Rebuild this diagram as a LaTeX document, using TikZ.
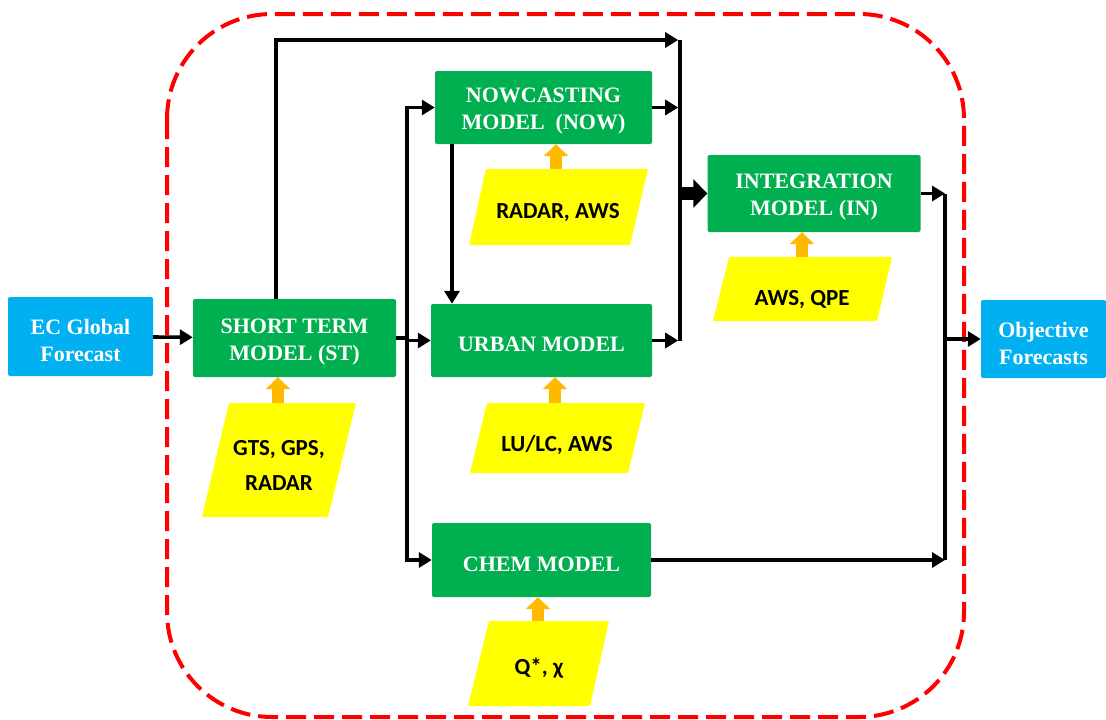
\documentclass[tikz,border=0pt]{standalone}
\usepackage{fontspec}
\setmainfont{Liberation Serif}
\newfontfamily\calfont{Carlito}
\usetikzlibrary{arrows.meta,calc}
\definecolor{gr}{HTML}{00B050}
\definecolor{bl}{HTML}{00B0F0}
\definecolor{ye}{HTML}{FFFF00}
\definecolor{orr}{HTML}{FFBA00}
\definecolor{rd}{HTML}{FF0000}
\begin{document}
\begin{tikzpicture}[x=1pt,y=-1pt,
  lbl/.style={text=white, font=\bfseries\fontsize{22}{27}\selectfont, align=center, inner sep=0pt, yshift=-4pt},
  box/.style={fill=gr, rounded corners=2pt, inner sep=0pt},
  bbox/.style={box, fill=bl},
  para/.style={fill=ye, rounded corners=1pt},
  ptext/.style={font=\calfont\bfseries\fontsize{23}{35}\selectfont, align=center, inner sep=0pt},
  ln/.style={line width=3.6pt, line join=miter},
  arr/.style={ln, -{Triangle[length=13pt,width=15pt]}},
  fat/.style={line width=13pt, -{Triangle[length=14pt,width=28pt]}},
  oarr/.style={orr, line width=12pt, -{Triangle[length=12pt,width=24pt]}},
  frame/.style={rd, line width=4pt, dash pattern=on 20pt off 8pt, rounded corners=105pt}
]
\useasboundingbox (0,0) rectangle (1106,720);
\draw[frame] (167,14) rectangle (964,717);

% main boxes
\node[bbox, minimum width=145pt, minimum height=79pt, label={[lbl]center:{EC Global\\Forecast}}] (ec) at (80.5,336.5) {};
\node[box, minimum width=203pt, minimum height=78pt, label={[lbl]center:{SHORT TERM\\MODEL (ST)}}] (st) at (294.5,338) {};
\node[box, minimum width=217pt, minimum height=73pt, label={[lbl]center:{NOWCASTING\\MODEL\ \ (NOW)}}] (now) at (543.5,107.5) {};
\node[box, minimum width=221pt, minimum height=73pt, label={[lbl]center:{URBAN MODEL}}] (urb) at (541.5,340.5) {};
\node[box, minimum width=219pt, minimum height=74pt, label={[lbl]center:{CHEM MODEL}}] (chem) at (541.5,560) {};
\node[box, minimum width=213pt, minimum height=77pt, label={[lbl]center:{INTEGRATION\\MODEL (IN)}}] (in) at (814,193.5) {};
\node[bbox, minimum width=125pt, minimum height=78pt, label={[lbl]center:{Objective\\Forecasts}}] (obj) at (1043.5,339) {};

% data parallelograms
\fill[para] (229,403) -- (356,403) -- (328,517) -- (202,517) -- cycle;
\fill[para] (486,169) -- (648,169) -- (630,245) -- (469,245) -- cycle;
\fill[para] (487,403) -- (645,403) -- (628,473) -- (470,473) -- cycle;
\fill[para] (729,257) -- (892,257) -- (877,321) -- (713,321) -- cycle;
\fill[para] (489,621) -- (609,621) -- (590,706) -- (468,706) -- cycle;
\node[ptext] (stdata) at (279,465.5) {GTS, GPS,\\RADAR};
\node[ptext] (nowdata) at (558,213) {RADAR, AWS};
\node[ptext] (urbdata) at (557,445) {LU/LC, AWS};
\node[ptext] (indata) at (802,300) {AWS, QPE};
\node[ptext] (chemdata) at (539,668) {Q*, χ};

\coordinate (stin) at (278,403);
\coordinate (nowin) at (556,169);
\coordinate (urbin) at (555,403);
\coordinate (inin) at (802,257);
\coordinate (chemin) at (538,621);
\draw[oarr] (stin) -- (stin |- st.south);
\draw[oarr] (nowin) -- (nowin |- now.south);
\draw[oarr] (urbin) -- (urbin |- urb.south);
\draw[oarr] (inin) -- (inin |- in.south);
\draw[oarr] (chemin) -- (chemin |- chem.south);

% connectors
\coordinate (b0) at (407,0);
\coordinate (stx) at (276,40);
\coordinate (b1) at (680,40);
\coordinate (b2) at (945,0);
\coordinate (nd) at (452,0);

\draw[arr] (ec) -- (st);
\draw[ln] (st.east) -- (b0 |- st.east);
\draw[arr] (b0 |- chem.west) -- (b0 |- now.west) -- (now.west);
\draw[arr] (b0 |- now.west) -- (b0 |- chem.west) -- (chem.west);
\draw[arr] (b0 |- urb.west) -- (urb.west);
\draw[arr] (nd |- now.south) -- (nd |- urb.north);

\draw[arr, shorten >=1.8pt] (stx |- st.north) -- (stx) -- (b1);
\draw[ln] (b1) -- (b1 |- urb.east);
\draw[arr, shorten >=1.8pt] (now.east) -- (b1 |- now.east);
\draw[arr, shorten >=1.8pt] (urb.east) -- (b1 |- urb.east);
\draw[fat] (b1 |- in.west) -- (in.west);

\draw[arr] (in.east) -- (b2 |- in.east);
\draw[ln] (b2 |- in.east) -- (b2 |- chem.east);
\draw[arr] (chem.east) -- (b2 |- chem.east);
\draw[arr] (b2 |- obj.west) -- (obj.west);
\end{tikzpicture}
\end{document}
